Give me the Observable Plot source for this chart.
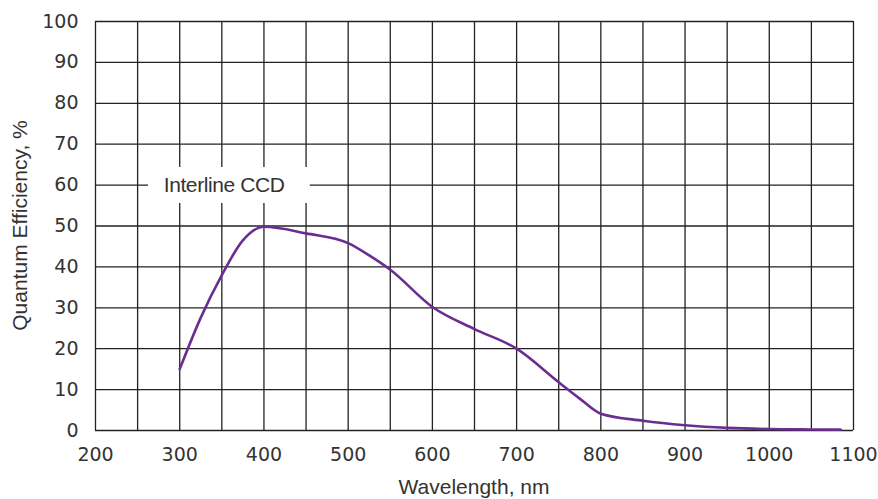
<!DOCTYPE html>
<html>
<head>
<meta charset="utf-8">
<script src="https://cdn.jsdelivr.net/npm/d3@7"></script>
<script src="https://cdn.jsdelivr.net/npm/@observablehq/plot@0.6"></script>
<style>
  html, body { margin: 0; padding: 0; background: #fff; }
  #chart svg { display: block; }
</style>
</head>
<body>
<div id="chart"></div>
<script>
const wavelength = [300, 325, 350, 375, 400, 450, 500, 525, 550, 600, 650, 700, 750, 775, 800, 850, 900, 950, 1000, 1050, 1085];
const efficiency = [15, 27.6, 38, 46.5, 49.8, 48.2, 45.8, 42.8, 39.3, 30.2, 24.8, 20, 11.8, 7.8, 4.1, 2.4, 1.3, 0.65, 0.35, 0.25, 0.2];
const xTicks = [200, 300, 400, 500, 600, 700, 800, 900, 1000, 1100];
const yTicks = [0, 10, 20, 30, 40, 50, 60, 70, 80, 90, 100];
const xGrid = d3.range(200, 1101, 50);
const yGrid = d3.range(0, 101, 10);
const seriesLabel = "Interline CCD";
const labelBox = [{x1: 263, x2: 455, y1: 55.5, y2: 64.3}];
const labelPos = [{x: 281, y: 60, text: seriesLabel}];

const data = wavelength.map((w, i) => ({w, q: efficiency[i]}));

const chart = Plot.plot({
  width: 878,
  height: 499,
  marginLeft: 95,
  marginRight: 25,
  marginTop: 21,
  marginBottom: 69,
  style: {fontFamily: "Liberation Sans, Arial, sans-serif", color: "#333", background: "#fff"},
  x: {domain: [200, 1100], label: null},
  y: {domain: [0, 100], label: null},
  marks: [
    Plot.ruleX(xGrid, {stroke: "#222", strokeWidth: 1.3, strokeOpacity: 1}),
    Plot.ruleY(yGrid, {stroke: "#222", strokeWidth: 1.3, strokeOpacity: 1}),
    Plot.rect(labelBox, {x1: "x1", x2: "x2", y1: "y1", y2: "y2", fill: "#fff"}),
    Plot.text(labelPos, {x: "x", y: "y", text: "text", textAnchor: "start", fontSize: 21, fill: "#333", fontFamily: "Liberation Sans, Arial, sans-serif", style: "letter-spacing:-0.4px"}),
    Plot.line(data, {x: "w", y: "q", stroke: "#6b2d90", strokeWidth: 2.6, curve: "monotone-x"}),
    Plot.axisY({ticks: yTicks, tickFormat: d => String(d), tickSize: 0, tickPadding: 17, fontSize: 19, fontFamily: "DejaVu Sans, sans-serif", label: null}),
    Plot.axisX({ticks: xTicks, tickFormat: d => String(d), tickSize: 0, tickPadding: 17, fontSize: 19, fontFamily: "DejaVu Sans, sans-serif", label: null})
  ]
});

const svg = d3.select(chart);
svg.selectAll("text").filter(function() { return this.textContent === seriesLabel; }).style("letter-spacing", "-0.4px");
svg.append("text")
  .attr("x", 474).attr("y", 494)
  .attr("text-anchor", "middle")
  .attr("font-family", "Liberation Sans, Arial, sans-serif")
  .attr("font-size", 21)
  .attr("fill", "#333")
  .text("Wavelength, nm");
svg.append("text")
  .attr("transform", "translate(27,225.5) rotate(-90)")
  .attr("text-anchor", "middle")
  .attr("font-family", "Liberation Sans, Arial, sans-serif")
  .attr("font-size", 21)
  .attr("fill", "#333")
  .text("Quantum Efficiency, %");

document.getElementById("chart").appendChild(chart);
</script>
</body>
</html>
